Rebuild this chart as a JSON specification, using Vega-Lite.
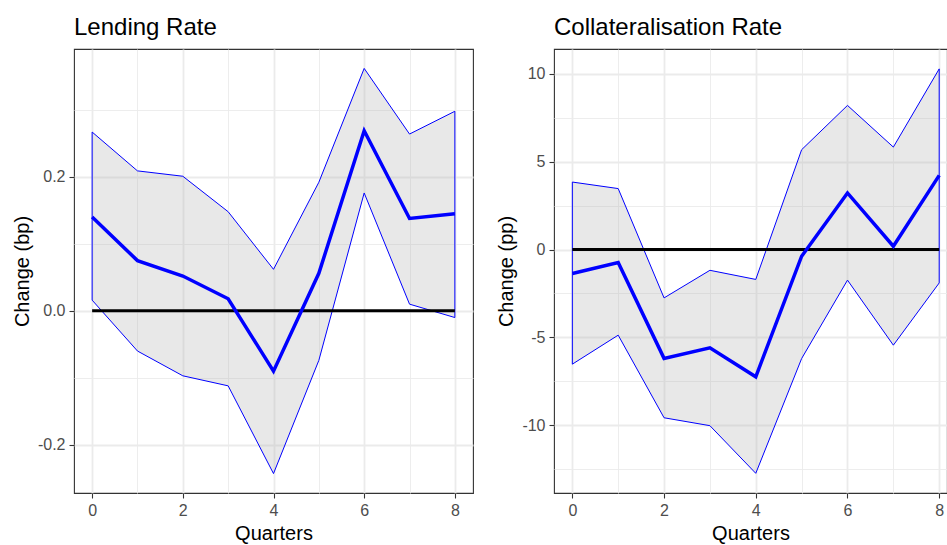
{
  "$schema": "https://vega.github.io/schema/vega-lite/v6.json",
  "background": "white",
  "padding": {"left": 11, "top": 15, "right": 0, "bottom": 0},
  "bounds": "flush",
  "spacing": 81,
  "config": {
    "font": "Liberation Sans",
    "view": {"stroke": "#333333", "strokeWidth": 1.1},
    "axis": {
      "domain": false,
      "labelColor": "#4D4D4D",
      "labelFontSize": 16,
      "labelFont": "Liberation Sans",
      "titleFont": "Liberation Sans",
      "titleFontSize": 20,
      "titleFontWeight": "normal",
      "titleColor": "black",
      "tickColor": "#333333",
      "tickSize": 5,
      "tickWidth": 1.1,
      "labelPadding": 4,
      "titlePadding": 5,
      "gridColor": "#EBEBEB"
    },
    "title": {"fontSize": 24, "fontWeight": "normal", "anchor": "start", "frame": "group", "offset": 9, "color": "black", "font": "Liberation Sans"}
  },
  "datasets": {
    "irf": [
      {"panel": "Lending Rate", "q": 0, "mean": 0.140, "lo": 0.016, "hi": 0.267},
      {"panel": "Lending Rate", "q": 1, "mean": 0.075, "lo": -0.060, "hi": 0.209},
      {"panel": "Lending Rate", "q": 2, "mean": 0.052, "lo": -0.097, "hi": 0.201},
      {"panel": "Lending Rate", "q": 3, "mean": 0.018, "lo": -0.112, "hi": 0.148},
      {"panel": "Lending Rate", "q": 4, "mean": -0.090, "lo": -0.243, "hi": 0.062},
      {"panel": "Lending Rate", "q": 5, "mean": 0.056, "lo": -0.074, "hi": 0.192},
      {"panel": "Lending Rate", "q": 6, "mean": 0.269, "lo": 0.176, "hi": 0.362},
      {"panel": "Lending Rate", "q": 7, "mean": 0.138, "lo": 0.010, "hi": 0.264},
      {"panel": "Lending Rate", "q": 8, "mean": 0.145, "lo": -0.010, "hi": 0.298},
      {"panel": "Collateralisation Rate", "q": 0, "mean": -1.36, "lo": -6.52, "hi": 3.84},
      {"panel": "Collateralisation Rate", "q": 1, "mean": -0.74, "lo": -4.87, "hi": 3.47},
      {"panel": "Collateralisation Rate", "q": 2, "mean": -6.19, "lo": -9.57, "hi": -2.75},
      {"panel": "Collateralisation Rate", "q": 3, "mean": -5.59, "lo": -10.02, "hi": -1.18},
      {"panel": "Collateralisation Rate", "q": 4, "mean": -7.24, "lo": -12.73, "hi": -1.70},
      {"panel": "Collateralisation Rate", "q": 5, "mean": -0.38, "lo": -6.20, "hi": 5.68},
      {"panel": "Collateralisation Rate", "q": 6, "mean": 3.22, "lo": -1.74, "hi": 8.20},
      {"panel": "Collateralisation Rate", "q": 7, "mean": 0.19, "lo": -5.44, "hi": 5.83},
      {"panel": "Collateralisation Rate", "q": 8, "mean": 4.22, "lo": -1.90, "hi": 10.28}
    ]
  },
  "hconcat": [
    {
      "width": 399,
      "height": 444,
      "title": "Lending Rate",
      "encoding": {
        "x": {
          "field": "q", "type": "quantitative",
          "scale": {"domain": [-0.4, 8.4], "nice": false, "zero": false},
          "axis": {
            "title": "Quarters",
            "values": [0, 1, 2, 3, 4, 5, 6, 7, 8],
            "labelExpr": "datum.value % 2 === 0 ? datum.label : ''",
            "tickOpacity": {"condition": {"test": "datum.value % 2 === 0", "value": 1}, "value": 0},
            "gridWidth": {"condition": {"test": "datum.value % 2 === 0", "value": 1.8}, "value": 0.9}
          }
        }
      },
      "layer": [
        {
          "data": {"name": "irf"},
          "transform": [{"filter": "datum.panel === 'Lending Rate'"}],
          "mark": {"type": "area", "fill": "#B3B3B3", "fillOpacity": 0.3, "stroke": "#0000FF", "strokeWidth": 1},
          "encoding": {
            "y": {
              "field": "hi", "type": "quantitative",
              "scale": {"domain": [-0.272, 0.391], "nice": false, "zero": false},
              "axis": {
                "title": "Change (bp)",
                "values": [-0.2, -0.1, 0, 0.1, 0.2, 0.3],
                "labelExpr": "round(datum.value*10) % 2 === 0 ? replace(format(datum.value, '.1f'), '\u2212', '-') : ''",
                "tickOpacity": {"condition": {"test": "round(datum.value*10) % 2 === 0", "value": 1}, "value": 0},
                "gridWidth": {"condition": {"test": "round(datum.value*10) % 2 === 0", "value": 1.8}, "value": 0.9}
              }
            },
            "y2": {"field": "lo"}
          }
        },
        {
          "data": {"values": [{"zero": 0, "from": 0, "to": 8}]},
          "mark": {"type": "rule", "color": "black", "strokeWidth": 3},
          "encoding": {
            "y": {"field": "zero", "type": "quantitative"},
            "x": {"field": "from", "type": "quantitative"},
            "x2": {"field": "to"}
          }
        },
        {
          "data": {"name": "irf"},
          "transform": [{"filter": "datum.panel === 'Lending Rate'"}],
          "mark": {"type": "line", "color": "#0000FF", "strokeWidth": 3.5},
          "encoding": {"y": {"field": "mean", "type": "quantitative"}}
        }
      ]
    },
    {
      "width": 393,
      "height": 444,
      "title": "Collateralisation Rate",
      "encoding": {
        "x": {
          "field": "q", "type": "quantitative",
          "scale": {"domain": [-0.4, 8.17], "nice": false, "zero": false},
          "axis": {
            "title": "Quarters",
            "values": [0, 1, 2, 3, 4, 5, 6, 7, 8],
            "labelExpr": "datum.value % 2 === 0 ? datum.label : ''",
            "tickOpacity": {"condition": {"test": "datum.value % 2 === 0", "value": 1}, "value": 0},
            "gridWidth": {"condition": {"test": "datum.value % 2 === 0", "value": 1.8}, "value": 0.9}
          }
        }
      },
      "layer": [
        {
          "data": {"name": "irf"},
          "transform": [{"filter": "datum.panel === 'Collateralisation Rate'"}],
          "mark": {"type": "area", "fill": "#B3B3B3", "fillOpacity": 0.3, "stroke": "#0000FF", "strokeWidth": 1},
          "encoding": {
            "y": {
              "field": "hi", "type": "quantitative",
              "scale": {"domain": [-13.85, 11.41], "nice": false, "zero": false},
              "axis": {
                "title": "Change (pp)",
                "values": [-12.5, -10, -7.5, -5, -2.5, 0, 2.5, 5, 7.5, 10],
                "labelExpr": "datum.value % 5 === 0 ? replace(format(datum.value, 'd'), '\u2212', '-') : ''",
                "tickOpacity": {"condition": {"test": "datum.value % 5 === 0", "value": 1}, "value": 0},
                "gridWidth": {"condition": {"test": "datum.value % 5 === 0", "value": 1.8}, "value": 0.9}
              }
            },
            "y2": {"field": "lo"}
          }
        },
        {
          "data": {"values": [{"zero": 0, "from": 0, "to": 8}]},
          "mark": {"type": "rule", "color": "black", "strokeWidth": 3},
          "encoding": {
            "y": {"field": "zero", "type": "quantitative"},
            "x": {"field": "from", "type": "quantitative"},
            "x2": {"field": "to"}
          }
        },
        {
          "data": {"name": "irf"},
          "transform": [{"filter": "datum.panel === 'Collateralisation Rate'"}],
          "mark": {"type": "line", "color": "#0000FF", "strokeWidth": 3.5},
          "encoding": {"y": {"field": "mean", "type": "quantitative"}}
        }
      ]
    }
  ]
}
